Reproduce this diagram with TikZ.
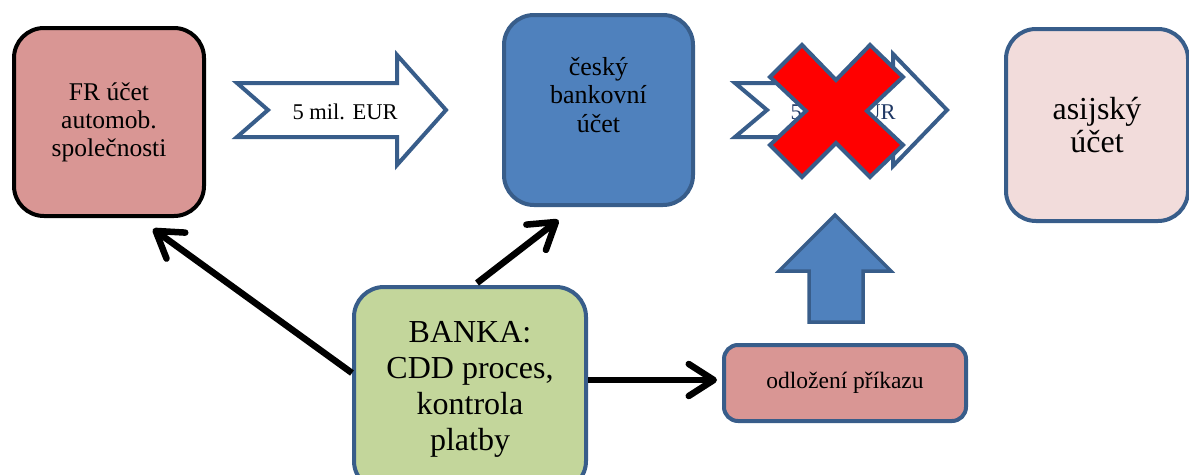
\documentclass[tikz,border=0pt]{standalone}
\usepackage{fontspec}
\setmainfont{Liberation Serif}
\usetikzlibrary{arrows.meta}
\definecolor{bdr}{RGB}{56,93,138}
\definecolor{pinkf}{RGB}{217,150,148}
\definecolor{bluef}{RGB}{79,129,189}
\definecolor{lpink}{RGB}{242,220,219}
\definecolor{greenf}{RGB}{195,214,155}
\definecolor{navytext}{RGB}{31,56,100}
\definecolor{xred}{RGB}{255,0,0}
\begin{document}
\begin{tikzpicture}[x=1pt,y=-1pt,
  box/.style={draw=bdr, line width=4pt, rounded corners=30pt, inner sep=0pt, align=center},
  conn/.style={line width=6.5pt, black, -{Straight Barb[length=25pt,width=32pt,round]}},
  blockarrow/.style={draw=bdr, line width=4pt, miter limit=10},
  lbl/.style={inner sep=0pt, anchor=base, font=\fontsize{22.5}{26}\selectfont}]
\useasboundingbox (0,0) rectangle (1189,474);

% boxes
\node[box, fill=pinkf, draw=black, minimum width=190pt, minimum height=188pt,
      font=\fontsize{25.5}{28}\selectfont] (fr) at (109,122) {FR účet\\automob.\\společnosti};
\node[box, fill=bluef, minimum width=189pt, minimum height=190pt] (cz) at (598.5,110) {};
\node[inner sep=0pt, align=center, font=\fontsize{26}{28.5}\selectfont] (czt) at (598.5,95) {český\\bankovní\\účet};
\node[box, fill=lpink, minimum width=182pt, minimum height=192pt,
      font=\fontsize{32}{33}\selectfont] (asia) at (1097,125) {asijský\\účet};
\node[box, fill=greenf, minimum width=232pt, minimum height=204pt,
      font=\fontsize{32}{36}\selectfont] (banka) at (470,389) {BANKA:\\CDD proces,\\kontrola\\platby};
\node[box, fill=pinkf, rounded corners=14pt, minimum width=242pt, minimum height=76pt,
      font=\fontsize{23.5}{26}\selectfont] (odl) at (845,383) {odložení příkazu};

% block arrow 1
\draw[blockarrow, fill=white] (237,83) -- (397,83) -- (397,55) -- (446,110) -- (397,165)
   -- (397,137) -- (237,137) -- (268,110) -- cycle;
\node[lbl] (amt1) at (345,119) {5 mil. EUR};

% block arrow 2 (crossed out)
\draw[blockarrow, fill=white] (735,83) -- (893,83) -- (893,54) -- (947,110) -- (893,166)
   -- (893,137) -- (735,137) -- (767,110) -- cycle;
\node[lbl, text=navytext] (amt2) at (843,119) {5 mil. EUR};

% red cross
\draw[draw=bdr, line width=4pt, fill=xred, miter limit=10]
  (836,80) -- (870,45) -- (903,77) -- (867,111) -- (903,145) -- (870,177) -- (836,143)
  -- (802,177) -- (770,145) -- (806,111) -- (770,77) -- (802,45) -- cycle;

% blue up arrow
\draw[draw=bdr, line width=3.5pt, fill=bluef, miter limit=10]
  (835,215) -- (891,271) -- (863,271) -- (863,322) -- (809,322) -- (809,271) -- (779,271) -- cycle;

% connectors
\draw[conn] ([yshift=16pt]banka.west) -- ([xshift=44pt,yshift=-11pt]fr.south);
\draw[conn] ([xshift=7pt,yshift=2pt]banka.north) -- ([xshift=-40pt,yshift=-13pt]cz.south);
\draw[conn] ([yshift=9pt]banka.east) -- ([xshift=-5pt,yshift=3pt]odl.west);
\end{tikzpicture}
\end{document}
